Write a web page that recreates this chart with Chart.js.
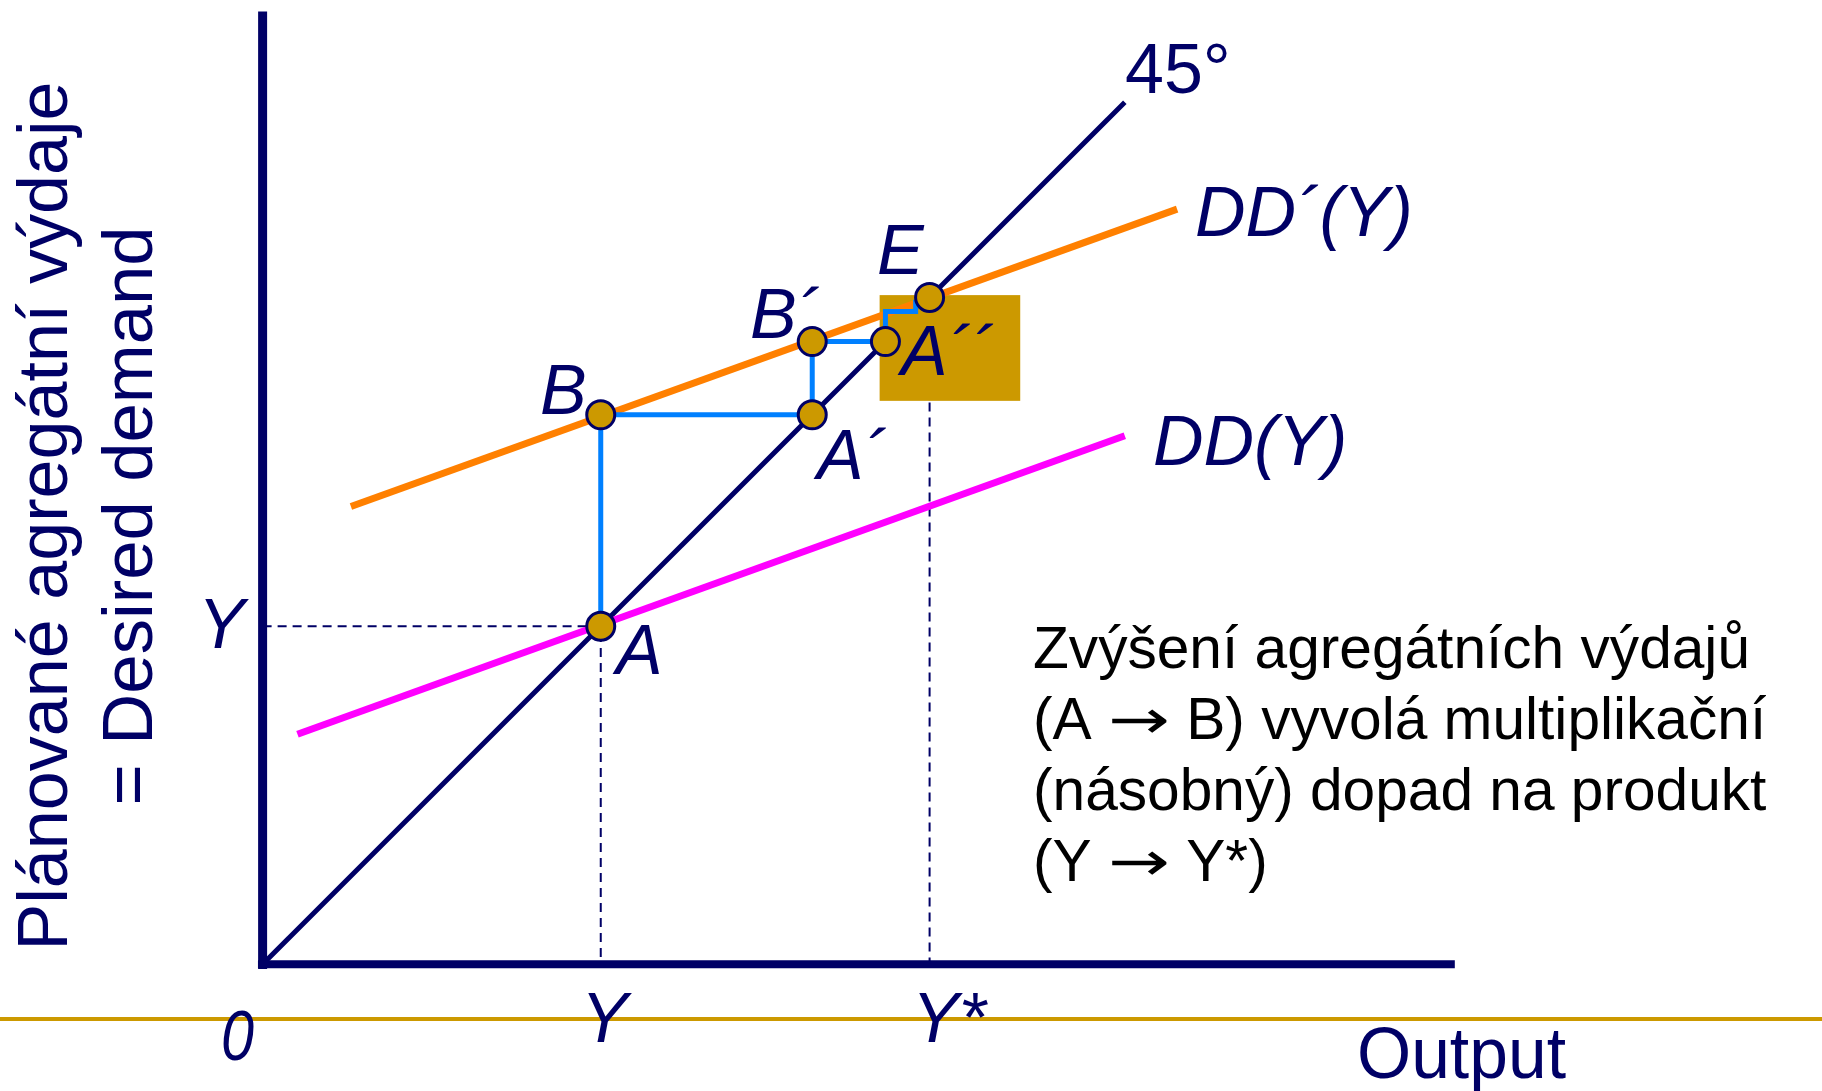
<!DOCTYPE html>
<html>
<head>
<meta charset="utf-8">
<script src="https://cdn.jsdelivr.net/npm/chart.js@4.4.1/dist/chart.umd.min.js"></script>
<style>
  html, body { margin: 0; padding: 0; background: #fff; overflow: hidden; }
  canvas { display: block; }
</style>
</head>
<body>
<canvas id="chart" width="1822" height="1091"></canvas>
<script>
// values (output on x, desired demand on y)
const line45X = [0, 7.42];
const line45Y = [0, 7.42];
const ddX = [0.30, 7.42];
const ddY = [1.98, 4.55];
const ddPrimeX = [0.76, 7.87];
const ddPrimeY = [3.94, 6.50];
const stepX = [2.91, 2.91, 4.73, 4.73, 5.36, 5.36, 5.62, 5.62];
const stepY = [2.91, 4.73, 4.73, 5.36, 5.36, 5.62, 5.62, 5.72];
const pointNames = ['A', 'B', 'A´', 'B´', 'A´´', 'E'];
const pointX = [2.91, 2.91, 4.73, 4.73, 5.36, 5.74];
const pointY = [2.91, 4.73, 4.73, 5.36, 5.36, 5.74];
const outputY = 2.91;     // Y
const outputStar = 5.74;  // Y*
const axisTop = 8.2;
const axisRight = 10.26;

const NAVY = '#000066';
const GOLD = '#CC9900';
const FONT = "'Liberation Sans', Arial, sans-serif";

function xy(xs, ys) {
  return xs.map((x, i) => ({ x: x, y: ys[i] }));
}

function lineSet(label, data, color, width, order, dash) {
  return {
    label: label,
    data: data,
    showLine: true,
    borderColor: color,
    borderWidth: width,
    borderDash: dash || [],
    pointRadius: 0,
    fill: false,
    clip: false,
    order: order
  };
}

// text labels, in canvas pixels: [text, left x, baseline y, italic]
const labels = [
  ['45°', 1125, 93, false],
  ['DD´(Y)', 1195, 236, true],
  ['E', 877, 274, true],
  ['B´', 750, 338, true],
  ['B', 540, 414, true],
  ['A´´', 901, 375, true],
  ['A´', 817, 479, true],
  ['DD(Y)', 1153, 465, true],
  ['Y', 198, 648, true],
  ['A', 616, 674, true],
  ['Y', 581, 1042, true],
  ['Y*', 912, 1042, true]
];

const note = [
  'Zvýšení agregátních výdajů',
  '(A \u2192 B) vyvolá multiplikační',
  '(násobný) dopad na produkt',
  '(Y \u2192 Y*)'
];

function fitText(ctx, str, x, y, width) {
  const w = ctx.measureText(str).width;
  ctx.save();
  ctx.translate(x, y);
  ctx.scale(width / w, 1);
  ctx.fillText(str, 0, 0);
  ctx.restore();
}

// draws a note line; the arrow glyph comes from DejaVu, stretched a little
function noteLine(ctx, str, x, y, k) {
  const parts = str.split('\u2192');
  ctx.save();
  ctx.translate(x, y);
  ctx.scale(k, 1);
  let cx = 0;
  parts.forEach((p, i) => {
    ctx.font = '60px ' + FONT;
    ctx.fillText(p, cx, 0);
    cx += ctx.measureText(p).width;
    if (i < parts.length - 1) {
      ctx.font = "54px 'DejaVu Sans', sans-serif";
      const aw = ctx.measureText('\u2192').width;
      const target = 62 / k;
      ctx.save();
      ctx.translate(cx, -1);
      ctx.scale(target / aw, 1);
      ctx.fillText('\u2192', 0, 0);
      ctx.restore();
      cx += target;
    }
  });
  ctx.restore();
}

const decor = {
  id: 'decor',
  beforeDatasetDraw(chart, args) {
    // gold box sits above the 45° line but under DD´ and the steps
    if (chart.data.datasets[args.index].label !== 'DD´(Y)') return;
    const { ctx, scales: { x, y } } = chart;
    const x0 = x.getPixelForValue(5.31), x1 = x.getPixelForValue(6.52);
    const y0 = y.getPixelForValue(5.76), y1 = y.getPixelForValue(4.85);
    ctx.save();
    ctx.fillStyle = GOLD;
    ctx.fillRect(x0, y0, x1 - x0, y1 - y0);
    ctx.restore();
  },
  afterDraw(chart) {
    const ctx = chart.ctx;
    ctx.save();
    ctx.fillStyle = NAVY;
    ctx.textBaseline = 'alphabetic';
    labels.forEach(l => {
      ctx.font = (l[3] ? 'italic ' : '') + '70px ' + FONT;
      ctx.fillText(l[0], l[1], l[2]);
    });
    ctx.font = 'italic 70px ' + FONT;
    fitText(ctx, '0', 221, 1060, 33);
    ctx.font = '72px ' + FONT;
    fitText(ctx, 'Output', 1357, 1078, 209);

    // y axis title
    ctx.font = '70px ' + FONT;
    ctx.textAlign = 'left';
    [['Plánované agregátní výdaje', 67, 869], ['= Desired demand', 152, 579]].forEach(t => {
      ctx.save();
      ctx.translate(t[1], 516);
      ctx.rotate(-Math.PI / 2);
      const w = ctx.measureText(t[0]).width;
      ctx.scale(t[2] / w, 1);
      ctx.fillText(t[0], -w / 2, 0);
      ctx.restore();
    });

    // explanation
    ctx.fillStyle = '#000';
    ctx.font = '60px ' + FONT;
    const k = 717 / ctx.measureText(note[0]).width;
    note.forEach((s, i) => noteLine(ctx, s, 1033, 668 + i * 71, k));
    ctx.restore();
  }
};

new Chart(document.getElementById('chart'), {
  type: 'scatter',
  data: {
    datasets: [
      lineSet('rule', xy([-2.4, 13.6], [-0.47, -0.47]), GOLD, 4, 20),
      lineSet('dashY', xy([0, outputY, outputY], [outputY, outputY, 0]), NAVY, 2, 19, [9, 6]),
      lineSet('dashYStar', xy([outputStar, outputStar], [outputStar, 0]), NAVY, 2, 18, [9, 6]),
      lineSet('45°', xy(line45X, line45Y), NAVY, 5, 17),
      lineSet('yAxis', xy([0, 0], [-0.04, axisTop]), NAVY, 9, 16),
      lineSet('xAxis', xy([-0.04, axisRight], [0, 0]), NAVY, 8, 15),
      lineSet('DD(Y)', xy(ddX, ddY), '#FF00FF', 7, 14),
      lineSet('DD´(Y)', xy(ddPrimeX, ddPrimeY), '#FF8000', 7, 13),
      lineSet('steps', xy(stepX, stepY), '#0080FF', 5, 12),
      {
        label: 'points',
        data: xy(pointX, pointY).map((p, i) => ({ ...p, name: pointNames[i] })),
        showLine: false,
        pointRadius: 14,
        pointBorderWidth: 3,
        pointBackgroundColor: GOLD,
        pointBorderColor: NAVY,
        clip: false,
        order: 1
      }
    ]
  },
  options: {
    responsive: false,
    animation: false,
    events: [],
    layout: { padding: 0, autoPadding: false },
    plugins: { legend: { display: false }, tooltip: { enabled: false } },
    scales: {
      x: { type: 'linear', min: -2.26, max: 13.42, display: false },
      y: { type: 'linear', min: -1.09, max: 8.30, display: false }
    }
  },
  plugins: [decor]
});
</script>
</body>
</html>
